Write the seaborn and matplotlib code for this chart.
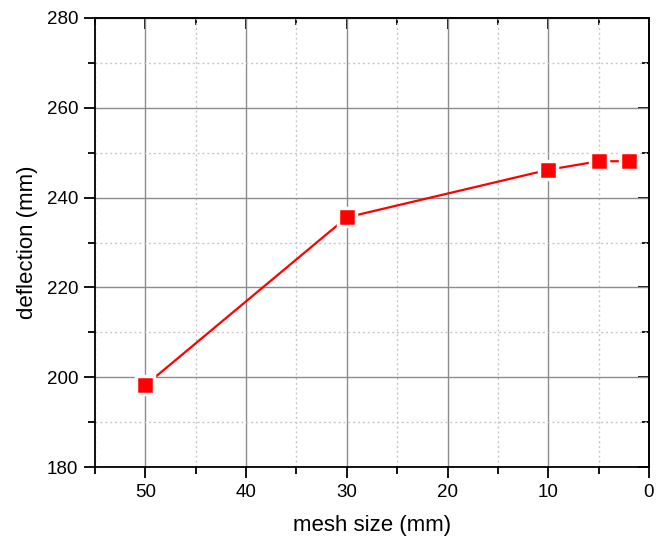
import matplotlib
matplotlib.use("Agg")
import matplotlib.pyplot as plt
import seaborn as sns
import pandas as pd
from matplotlib.ticker import MultipleLocator

mesh_size = [50, 30, 10, 5, 2]
deflection = [198.2, 235.6, 246.2, 248.1, 248.1]

sns.set_theme(style="white")
plt.rcParams['font.family'] = ['Liberation Sans', 'DejaVu Sans']

df = pd.DataFrame({"mesh": mesh_size, "defl": deflection})

fig = plt.figure(figsize=(6.56, 5.49), dpi=100)
ax = fig.add_axes([95 / 656, 1 - 467 / 549, (649 - 95) / 656, (467 - 18) / 549])

sns.lineplot(data=df, x="mesh", y="defl", ax=ax, color="red", linewidth=1.6,
             marker="s", markersize=13, markerfacecolor="red",
             markeredgecolor="white", markeredgewidth=2.5, sort=False,
             zorder=5)

ax.set_xlim(55, 0)
ax.set_ylim(180, 280)
ax.xaxis.set_major_locator(MultipleLocator(10))
ax.xaxis.set_minor_locator(MultipleLocator(5))
ax.yaxis.set_major_locator(MultipleLocator(20))
ax.yaxis.set_minor_locator(MultipleLocator(10))

ax.grid(which="major", color="#8c8c8c", linewidth=1.0, linestyle="-")
ax.grid(which="minor", color="#c8c8c8", linewidth=1.0, linestyle=(0, (1.5, 2)))
ax.set_axisbelow(True)

for s in ax.spines.values():
    s.set_color("black")
    s.set_linewidth(1.3)
    s.set_visible(True)

# bottom/left: outward ticks with labels
ax.tick_params(which="both", direction="out", top=False, right=False,
               bottom=True, left=True, color="black", width=1.3)
ax.tick_params(which="major", length=8, labelsize=13.5, labelcolor="black", pad=4)
ax.tick_params(which="minor", length=5)

# top/right: inward mirror ticks without labels
top = ax.secondary_xaxis("top")
top.xaxis.set_major_locator(MultipleLocator(10))
top.xaxis.set_minor_locator(MultipleLocator(5))
top.tick_params(which="both", direction="in", color="black", width=1.3,
                labeltop=False)
top.tick_params(which="major", length=8)
top.tick_params(which="minor", length=5)
top.spines["top"].set_linewidth(1.3)

right = ax.secondary_yaxis("right")
right.yaxis.set_major_locator(MultipleLocator(20))
right.yaxis.set_minor_locator(MultipleLocator(10))
right.tick_params(which="both", direction="in", color="black", width=1.3,
                  labelright=False)
right.tick_params(which="major", length=8)
right.tick_params(which="minor", length=5)
right.spines["right"].set_linewidth(1.3)

ax.set_xlabel("mesh size (mm)", fontsize=16, color="black", labelpad=10)
ax.set_ylabel("deflection (mm)", fontsize=16, color="black", labelpad=6)

fig.savefig("out.png", dpi=100)
